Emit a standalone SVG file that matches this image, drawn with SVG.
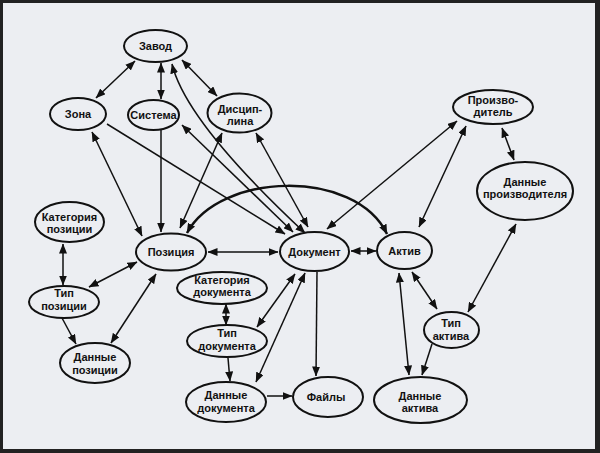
<svg xmlns="http://www.w3.org/2000/svg" width="600" height="453" viewBox="0 0 600 453">
<defs>
<marker id="ah" markerUnits="userSpaceOnUse" markerWidth="10" markerHeight="8" refX="9.5" refY="4" orient="auto-start-reverse" viewBox="0 0 10 8">
<path d="M0,0 L10,4 L0,8 z" fill="#111"/>
</marker>
<style>
.n ellipse{fill:#eceef2;stroke:#111;stroke-width:2}
.n text{font-family:"Liberation Sans",Arial,sans-serif;font-weight:bold;font-size:11px;fill:#111;text-anchor:middle}
#edges line,#edges path{stroke:#111;stroke-width:1.5;fill:none}
.d{marker-start:url(#ah);marker-end:url(#ah)}
.s{marker-end:url(#ah)}
</style>
</defs>
<rect x="0" y="0" width="600" height="453" fill="#222"/>
<rect x="3" y="3" width="592" height="446" fill="#eceef2"/>
<g id="edges">
<line class="d" x1="135" y1="61" x2="96" y2="98"/>
<line class="d" x1="161" y1="63" x2="161" y2="99"/>
<line class="d" x1="182" y1="60" x2="217" y2="96"/>
<path class="d" d="M172,64 Q186,122 305,233"/>
<line class="s" x1="107" y1="124" x2="285" y2="234"/>
<line class="d" x1="182" y1="125" x2="293" y2="232"/>
<line class="d" x1="256" y1="133" x2="308" y2="227"/>
<line class="d" x1="457" y1="121" x2="327" y2="229"/>
<line class="d" x1="92" y1="132" x2="142" y2="236"/>
<line class="s" x1="161" y1="130" x2="161" y2="232"/>
<line class="d" x1="222" y1="133" x2="180" y2="228"/>
<line class="d" x1="208" y1="252" x2="278" y2="252"/>
<line class="d" x1="351" y1="251" x2="376" y2="251"/>
<path class="d" d="M187,233 C220,172 355,168 387,234" style="stroke-width:2.5"/>
<line class="d" x1="63" y1="244" x2="63" y2="285"/>
<line class="d" x1="89" y1="287" x2="137" y2="262"/>
<line class="s" x1="62" y1="318" x2="76" y2="344"/>
<line class="d" x1="111" y1="343" x2="156" y2="274"/>
<line class="d" x1="226" y1="304" x2="226" y2="325"/>
<line class="d" x1="257" y1="327" x2="295" y2="274"/>
<line class="s" x1="228" y1="358" x2="230" y2="381"/>
<line class="d" x1="256" y1="382" x2="305" y2="273"/>
<line class="s" x1="267" y1="396" x2="292" y2="396"/>
<line class="s" x1="317" y1="272" x2="316" y2="376"/>
<line class="d" x1="399" y1="273" x2="409" y2="375"/>
<line class="d" x1="412" y1="272" x2="437" y2="309"/>
<line class="s" x1="432" y1="344" x2="422" y2="375"/>
<line class="d" x1="468" y1="312" x2="516" y2="224"/>
<line class="d" x1="502" y1="128" x2="514" y2="160"/>
<line class="d" x1="466" y1="126" x2="419" y2="227"/>
</g>
<g id="zavod" class="n"><ellipse cx="155.5" cy="46" rx="31.5" ry="16"/><text x="155.5" y="50">Завод</text></g>
<g id="zona" class="n"><ellipse cx="78" cy="114" rx="28" ry="16"/><text x="78" y="118">Зона</text></g>
<g id="sistema" class="n"><ellipse cx="153.5" cy="115" rx="25.5" ry="15"/><text x="153.5" y="119">Система</text></g>
<g id="disciplina" class="n"><ellipse cx="239.5" cy="113" rx="32" ry="19.5"/><text x="240" y="113">Дисцип-</text><text x="240" y="125">лина</text></g>
<g id="kat-pozicii" class="n"><ellipse cx="69.5" cy="222" rx="34.5" ry="20"/><text x="69.5" y="221">Категория</text><text x="69.5" y="233">позиции</text></g>
<g id="poziciya" class="n"><ellipse cx="171" cy="252" rx="35" ry="18.5"/><text x="171" y="256">Позиция</text></g>
<g id="tip-pozicii" class="n"><ellipse cx="64" cy="302" rx="35" ry="16"/><text x="64" y="297">Тип</text><text x="64" y="310">позиции</text></g>
<g id="dannye-pozicii" class="n"><ellipse cx="95" cy="363" rx="35" ry="20"/><text x="95" y="361">Данные</text><text x="95" y="374">позиции</text></g>
<g id="kat-dokumenta" class="n"><ellipse cx="222" cy="288" rx="45" ry="16"/><text x="222" y="284">Категория</text><text x="222" y="296">документа</text></g>
<g id="tip-dokumenta" class="n"><ellipse cx="227" cy="341" rx="40" ry="16"/><text x="227" y="337">Тип</text><text x="227" y="350">документа</text></g>
<g id="dannye-dokumenta" class="n"><ellipse cx="226" cy="402" rx="40" ry="20"/><text x="226" y="399">Данные</text><text x="226" y="412">документа</text></g>
<g id="dokument" class="n"><ellipse cx="314.5" cy="251.5" rx="34.5" ry="19.5"/><text x="314.5" y="255.5">Документ</text></g>
<g id="aktiv" class="n"><ellipse cx="404.5" cy="250.5" rx="27.5" ry="18.5"/><text x="404.5" y="254.5">Актив</text></g>
<g id="faily" class="n"><ellipse cx="328" cy="397" rx="35" ry="20"/><text x="326" y="401">Файлы</text></g>
<g id="dannye-aktiva" class="n"><ellipse cx="420.5" cy="400" rx="46.5" ry="23"/><text x="420" y="400">Данные</text><text x="420" y="412">актива</text></g>
<g id="tip-aktiva" class="n"><ellipse cx="451.5" cy="330" rx="27.5" ry="18"/><text x="451" y="327">Тип</text><text x="451" y="340">актива</text></g>
<g id="proizvoditel" class="n"><ellipse cx="493" cy="107" rx="40" ry="17"/><text x="493" y="104">Произво-</text><text x="493" y="116">дитель</text></g>
<g id="dannye-proizvoditelya" class="n"><ellipse cx="525" cy="191" rx="48" ry="29"/><text x="525" y="186">Данные</text><text x="525" y="198">производителя</text></g>
</svg>
